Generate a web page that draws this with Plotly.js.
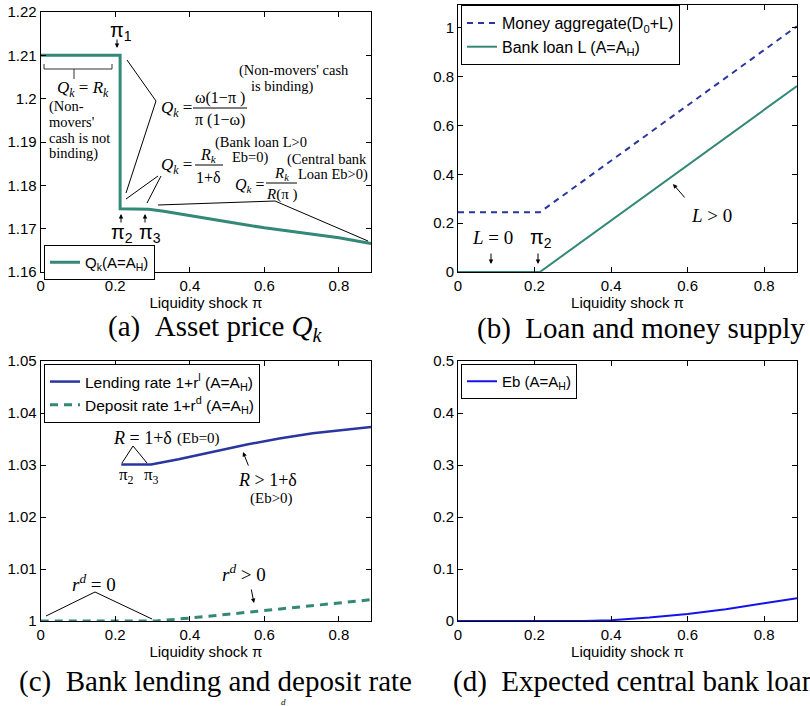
<!DOCTYPE html>
<html><head><meta charset="utf-8">
<script src="https://cdn.plot.ly/plotly-3.0.1.min.js"></script>
<style>html,body{margin:0;padding:0;background:#fff}#c{width:810px;height:706px}</style>
</head><body><div id="c"></div>
<script>
// ---- data ----
const qkPi   = [0, 0.213, 0.213, 0.25, 0.29, 0.33, 0.37, 0.42, 0.5, 0.6, 0.7, 0.8, 0.886];
const qkVal  = [1.21, 1.21, 1.1746, 1.1746, 1.1745, 1.1740, 1.1734, 1.1727, 1.1716, 1.1702, 1.1690, 1.1679, 1.1666];
const moneyPi  = [0, 0.214, 0.886];
const moneyVal = [0.245, 0.245, 1.007];
const loanPi   = [0, 0.214, 0.886];
const loanVal  = [0, 0, 0.762];
const lendPi  = [0.216, 0.296, 0.37, 0.46, 0.55, 0.64, 0.73, 0.886];
const lendVal = [1.0301, 1.0301, 1.0311, 1.0325, 1.0339, 1.0351, 1.0361, 1.0373];
const depPi  = [0, 0.31, 0.42, 0.59, 0.75, 0.886];
const depVal = [1.0, 1.0, 1.0007, 1.0020, 1.0031, 1.0041];
const ebPi  = [0, 0.33, 0.4, 0.5, 0.6, 0.7, 0.8, 0.886];
const ebVal = [0, 0, 0.0015, 0.0065, 0.0134, 0.0225, 0.034, 0.0436];
const xTitle = 'Liquidity shock π';

// ---- styling helpers ----
const W=810,H=706;
const X=p=>p/W, Y=p=>1-p/H;
const SERIF='Liberation Serif', SANS='Liberation Sans';
const TEAL='#338877', NAVY='#2A36A0', BLUE='#1414E8';
const ann=[], shp=[];
function T(x,y,text,size,family,opt){ann.push(Object.assign({xref:'paper',yref:'paper',x:X(x),y:Y(y),text:text,showarrow:false,xanchor:'center',yanchor:'middle',borderpad:0,font:{family:family||SERIF,size:size||15,color:'#000'}},opt||{}));}
function L(x0,y0,x1,y1,c){shp.push({type:'line',xref:'paper',yref:'paper',x0:X(x0),y0:Y(y0),x1:X(x1),y1:Y(y1),line:{color:c||'#000',width:1}});}
function AR(tx,ty,sx,sy){ann.push({xref:'paper',yref:'paper',x:X(tx),y:Y(ty),ax:sx-tx,ay:sy-ty,text:'',showarrow:true,arrowhead:2,arrowsize:0.9,arrowwidth:1,arrowcolor:'#000',standoff:0,startstandoff:0});}
const NB='\u00A0';

// ---- panel (a) annotations ----
T(121,31,'π<sub>1</sub>',20,SANS); AR(117,48,117,38);
L(44,69,112,69,'#333'); L(44,64,44,69,'#333'); L(112,64,112,69,'#333'); L(74,69,74,79,'#333');
T(83,89,'<i>Q<sub>k</sub></i> = <i>R<sub>k</sub></i>',17);
T(48,107,'(Non-',14.5,SERIF,{xanchor:'left'});
T(48,122,"movers'",14.5,SERIF,{xanchor:'left'});
T(48,138,'cash is not',14.5,SERIF,{xanchor:'left'});
T(48,153,'binding)',14.5,SERIF,{xanchor:'left'});
T(294,71,"(Non-movers' cash",14.5); T(282,86,'is binding)',14.5);
T(176,109,'<i>Q<sub>k</sub></i> =',17); T(220,98,'ω(1−π )',16); L(193,108,247,108); T(220,120,'π (1−ω)',16);
L(127,60,156,101); L(156,101,126,193);
T(261,142,'(Bank loan L>0',14.5); T(250,157,'Eb=0)',14.5);
T(176,166,'<i>Q<sub>k</sub></i> =',17); T(208,155,'<i>R<sub>k</sub></i>',16); L(195,165,223,165); T(208,177,'1+δ',16);
L(126,199,158,176); L(147,203,161,176);
T(327,159,'(Central bank',14.5); T(333,174,'Loan Eb>0)',14.5);
T(250,185,'<i>Q<sub>k</sub></i> =',16); T(281,174,'<i>R<sub>k</sub></i>',15); L(266,183,297,183); T(282,195,'<i>R</i>(π )',15);
L(158,205,275,201); L(275,201,368,241);
AR(121,214,121,224); AR(145,214,145,224);
T(122,234,'π<sub>2</sub>',20,SANS); T(150,234,'π<sub>3</sub>',20,SANS);

// ---- panel (b) annotations ----
T(492,237,'<i>L</i> = 0',19); AR(491,264,491,252);
T(541,239,'π<sub>2</sub>',20,SANS); AR(538,264,538,252);
T(711,215,'<i>L</i> > 0',19); AR(673,184,686,199);

// ---- panel (c) annotations ----
T(142,438,'<i>R</i> = 1+δ',18); T(198,438,'(Eb=0)',15);
L(122,463,133,446); L(133,446,147,463);
T(126,476,'π<sub>2</sub>',17); T(151,476,'π<sub>3</sub>',17);
T(267,480,'<i>R</i> > 1+δ',18); T(271,498,'(Eb>0)',15);
AR(243,452,249,467);
T(94,583,'<i>r<sup>d</sup></i> = 0',19);
L(46,616,95,592); L(95,592,152,619);
T(244,573,'<i>r<sup>d</sup></i> > 0',19);
AR(254,603,251,588);

// ---- captions ----
T(107,328,'(a)'+NB+NB+'Asset price <i>Q<sub>k</sub></i>',29,SERIF,{xanchor:'left'});
T(476,328,'(b)'+NB+NB+'Loan and money supply',29,SERIF,{xanchor:'left'});
T(18,681,'(c)'+NB+NB+'Bank lending and deposit rate',29,SERIF,{xanchor:'left'});
T(452,681,'(d)'+NB+NB+'Expected central bank loan',29,SERIF,{xanchor:'left'});
T(283,702,'<i>d</i>',9);

// ---- traces ----
const traces=[
 {x:qkPi,y:qkVal,xaxis:'x',yaxis:'y',type:'scatter',mode:'lines',line:{color:TEAL,width:3},name:'Q<sub>k</sub>(A=A<sub>H</sub>)',legend:'legend'},
 {x:moneyPi,y:moneyVal,xaxis:'x2',yaxis:'y2',type:'scatter',mode:'lines',line:{color:NAVY,width:2,dash:'6px,5px'},name:'Money aggregate(D<sub>0</sub>+L)',legend:'legend2'},
 {x:loanPi,y:loanVal,xaxis:'x2',yaxis:'y2',type:'scatter',mode:'lines',line:{color:TEAL,width:2},name:'Bank loan L (A=A<sub>H</sub>)',legend:'legend2'},
 {x:lendPi,y:lendVal,xaxis:'x3',yaxis:'y3',type:'scatter',mode:'lines',line:{color:NAVY,width:2.5},name:'Lending rate 1+r<sup>l</sup> (A=A<sub>H</sub>)',legend:'legend3'},
 {x:depPi,y:depVal,xaxis:'x3',yaxis:'y3',type:'scatter',mode:'lines',line:{color:TEAL,width:3,dash:'8px,6px'},name:'Deposit rate 1+r<sup>d</sup> (A=A<sub>H</sub>)',legend:'legend3'},
 {x:ebPi,y:ebVal,xaxis:'x4',yaxis:'y4',type:'scatter',mode:'lines',line:{color:BLUE,width:2},name:'Eb (A=A<sub>H</sub>)',legend:'legend4'}
];

function xa(d,anchor){return {domain:d,anchor:anchor,range:[0,0.886],tick0:0,dtick:0.2,showgrid:false,zeroline:false,showline:true,linecolor:'#000',linewidth:1,mirror:'ticks',ticks:'inside',ticklen:5,tickcolor:'#000',tickfont:{family:SANS,size:15,color:'#000'},title:{text:xTitle,font:{family:SANS,size:15,color:'#000'},standoff:0}};}
function ya(d,anchor,r,dt){return {domain:d,anchor:anchor,range:r,tick0:r[0],dtick:dt,showgrid:false,zeroline:false,showline:true,linecolor:'#000',linewidth:1,mirror:'ticks',ticks:'inside',ticklen:5,tickcolor:'#000',tickfont:{family:SANS,size:15,color:'#000'}};}
function LG(x,y,fs){return {x:X(x),y:Y(y),xref:'paper',yref:'paper',xanchor:'left',yanchor:'top',bgcolor:'#fff',bordercolor:'#000',borderwidth:1,font:{family:SANS,size:fs,color:'#000'},itemwidth:30,tracegroupgap:0};}

const dA=[40.7/W,371/W], dB=[458/W,797/W];
const layout={
 width:W,height:H,margin:{l:0,r:0,t:0,b:0},paper_bgcolor:'#fff',plot_bgcolor:'#fff',showlegend:true,
 xaxis:xa(dA,'y'), yaxis:ya([Y(272),Y(12)],'x',[1.16,1.22],0.01),
 xaxis2:xa(dB,'y2'), yaxis2:ya([Y(272),Y(5)],'x2',[0,1.094],0.2),
 xaxis3:xa(dA,'y3'), yaxis3:ya([Y(621),Y(361)],'x3',[1,1.05],0.01),
 xaxis4:xa(dB,'y4'), yaxis4:ya([Y(621),Y(361)],'x4',[0,0.5],0.1),
 legend:LG(44,245,15), legend2:LG(461,5,16), legend3:LG(44,364,15.5), legend4:LG(461,364,15),
 annotations:ann, shapes:shp
};
Plotly.newPlot('c',traces,layout,{staticPlot:true,displayModeBar:false});
</script></body></html>
